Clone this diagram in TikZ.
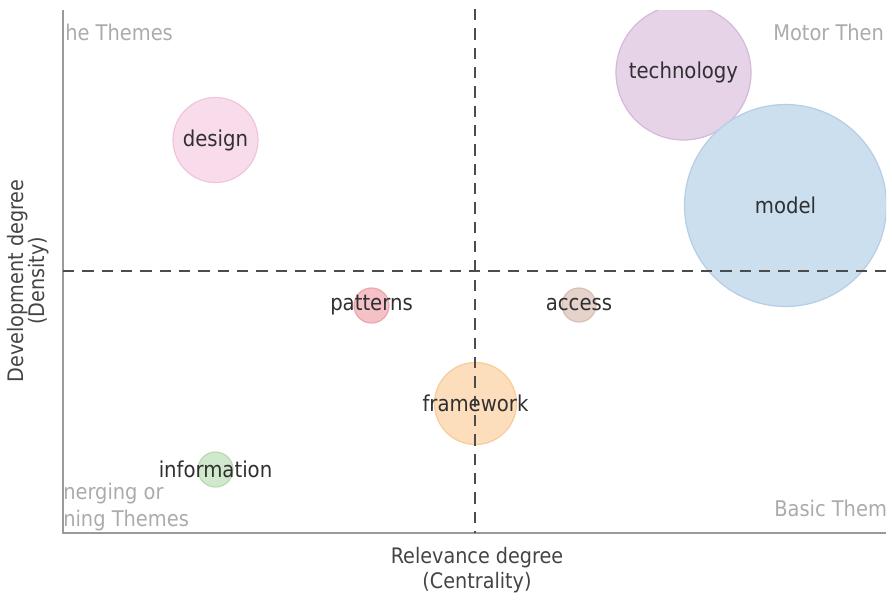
\documentclass[tikz,border=0pt]{standalone}
\usepackage{fontspec}
\setmainfont{DejaVu Sans Condensed}
\usetikzlibrary{positioning}
\definecolor{designfill}{HTML}{F9DCEB}
\definecolor{designline}{HTML}{F2C4DC}
\definecolor{techfill}{HTML}{E6D3E8}
\definecolor{techline}{HTML}{D4B9D9}
\definecolor{modelfill}{HTML}{CCDFEF}
\definecolor{modelline}{HTML}{B5CDE5}
\definecolor{patfill}{HTML}{F4C1C6}
\definecolor{patline}{HTML}{EBA6AD}
\definecolor{accfill}{HTML}{E5D3CB}
\definecolor{accline}{HTML}{D8BFB4}
\definecolor{framefill}{HTML}{FDDEBC}
\definecolor{frameline}{HTML}{F8CB98}
\definecolor{infofill}{HTML}{D0E9CC}
\definecolor{infoline}{HTML}{B7DCB1}
\definecolor{termgray}{HTML}{303030}
\definecolor{quadgray}{HTML}{ABABAB}
\definecolor{titlegray}{HTML}{444444}
\definecolor{axisgray}{HTML}{9A9A9A}
\definecolor{dashgray}{HTML}{4C4C4C}
\tikzset{
   bubble/.style={
     circle, inner sep=0pt, line width=0.9pt
   },
   term/.style={
     text=termgray, font=\fontsize{16.4}{19}\selectfont
   },
   quadrant/.style={
     text=quadgray, anchor=west, inner sep=0pt, align=left,
     font=\fontsize{16.2}{20.25}\selectfont
   },
   axistitle/.style={
     text=titlegray, align=center, inner sep=0pt
   },
   axisline/.style={draw=axisgray, line width=1.1pt},
   splitline/.style={draw=dashgray, line width=1.9pt, dash pattern=on 8.5pt off 6pt}
}

\begin{document}
\begin{tikzpicture}[x=0.75pt, y=-0.75pt]
            \useasboundingbox (0,0) rectangle (892,600);
            \coordinate (ytop) at (63,10);
            \coordinate (origin) at (63,533);
            \coordinate (xend) at (886,533);
            \coordinate (hleft) at (63,271);
            \coordinate (hright) at (886,271);
            \coordinate (vtop) at (475,9);
            \coordinate (vbottom) at (475,533);

            % bubbles, cut at the plot area
            \begin{scope}
               \clip (ytop) rectangle (xend);
               \node[bubble, fill=designfill, draw=designline, minimum size=63.75pt](design) at (215.5,140) {};
               \node[bubble, fill=techfill, draw=techline, minimum size=101.25pt](technology) at (683.5,72.5) {};
               \node[bubble, fill=modelfill, draw=modelline, minimum size=151.5pt](model) at (785.5,205.5) {};
               \node[bubble, fill=patfill, draw=patline, minimum size=26.25pt](patterns) at (371.5,305.5) {};
               \node[bubble, fill=accfill, draw=accline, minimum size=25.5pt](access) at (579,305) {};
               \node[bubble, fill=framefill, draw=frameline, minimum size=61.5pt](framework) at (475.5,403.5) {};
               \node[bubble, fill=infofill, draw=infoline, minimum size=26.25pt](information) at (215.5,469.5) {};
            \end{scope}

            \draw[axisline] (ytop) |- (xend);
            \draw[splitline] (hleft) -- (hright);
            \draw[splitline] (vtop) -- (vbottom);

            \node[term](designtext) at (design) {design};
            \node[term](technologytext) at (technology) {technology};
            \node[term](modeltext) at (model) {model};
            \node[term](patternstext) at (patterns) {patterns};
            \node[term](accesstext) at (access) {access};
            \node[term](frameworktext) at (framework) {framework};
            \node[term](informationtext) at (information) {information};

            % quadrant names, as cut by the plot frame
            \node[quadrant](niche) at (65,32) {he Themes};
            \node[quadrant](motor) at (773,32) {Motor Then};
            \node[quadrant](basic) at (774,508) {Basic Them};
            \node[quadrant](emerging) at (63,507.5) {nerging or\\ning Themes};

            \node[axistitle, font=\fontsize{16}{18.5}\selectfont](xtitle) at (477,570) {Relevance degree\\(Centrality)};
            \node[axistitle, font=\fontsize{16}{16}\selectfont, rotate=90](ytitle) at (28,281) {Development degree\\(Density)};
         \end{tikzpicture}
\end{document}
